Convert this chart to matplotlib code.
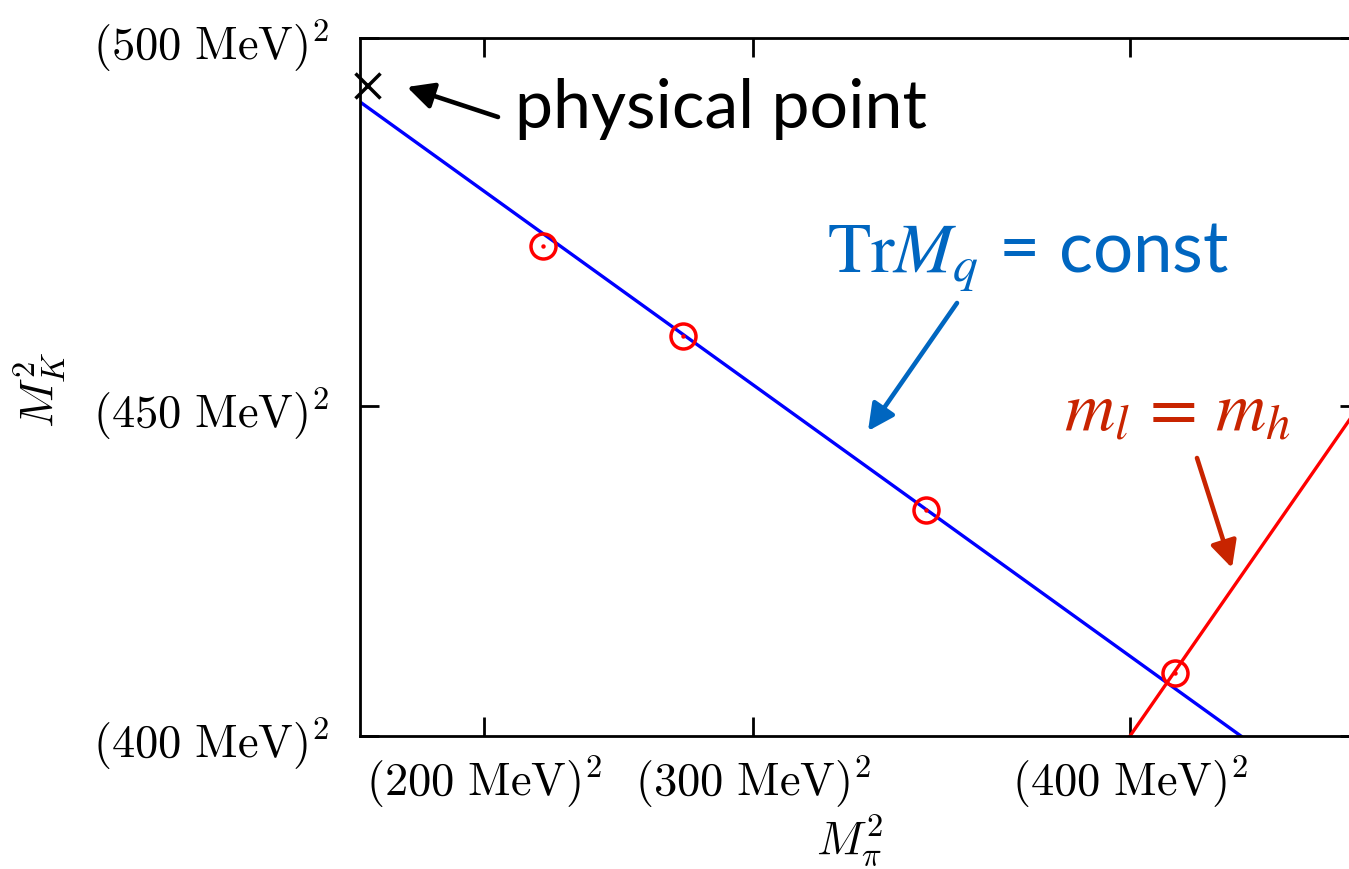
import matplotlib
matplotlib.use("Agg")
import matplotlib.pyplot as plt

plt.rcParams["mathtext.fontset"] = "cm"

# squared masses in GeV^2
xlim = [0.0169, 0.2025]
ylim = [0.16, 0.25]
xticks = [0.04, 0.09, 0.16]
xtick_labels = [r"$(200\ \mathrm{MeV})^2$", r"$(300\ \mathrm{MeV})^2$", r"$(400\ \mathrm{MeV})^2$"]
yticks = [0.16, 0.2025, 0.25]
ytick_labels = [r"$(400\ \mathrm{MeV})^2$", r"$(450\ \mathrm{MeV})^2$", r"$(500\ \mathrm{MeV})^2$"]

phys_x = [0.0182]
phys_y = [0.2440]

trmq_x = [0.0169, 0.1806]
trmq_y = [0.2418, 0.1600]

mlmh_x = [0.1600, 0.2025]
mlmh_y = [0.1600, 0.2025]

ens_x = [0.0510, 0.0770, 0.1221, 0.1684]
ens_y = [0.2232, 0.2116, 0.1892, 0.1681]

W, H = 1349, 870
BLUE_TXT = "#0066c0"
RED_TXT = "#c82400"

fig = plt.figure(figsize=(W / 100, H / 100), dpi=100)
ax = fig.add_axes([359.6 / W, 133 / H, 999.2 / W, 698 / H])

ax.plot(trmq_x, trmq_y, color="#0000ff", lw=2.4, zorder=2)
ax.plot(mlmh_x, mlmh_y, color="#ff0000", lw=2.4, zorder=2)
ax.plot(ens_x, ens_y, "o", ms=18, mfc="none", mec="#ff0000", mew=2.5, zorder=3)
ax.plot(ens_x, ens_y, "o", ms=3.2, mfc="#ff0000", mec="none", zorder=3)
ax.plot(phys_x, phys_y, "x", ms=18, color="black", mew=2.5, clip_on=False, zorder=4)

ax.set_xlim(xlim)
ax.set_ylim(ylim)
ax.set_xticks(xticks)
ax.set_xticklabels(xtick_labels)
ax.set_yticks(yticks)
ax.set_yticklabels(ytick_labels)
ax.tick_params(direction="in", length=13.5, width=2, labelsize=33.5,
               top=True, right=True)
ax.tick_params(axis="x", pad=12)
ax.tick_params(axis="y", pad=22)
for sp in ax.spines.values():
    sp.set_linewidth(2)

ax.text(-0.3209, 0.497, r"$M_K^2$", transform=ax.transAxes, rotation=90,
        ha="center", va="center", fontsize=33.5)
ax.text(0.4908, -0.149, r"$M_\pi^2$", transform=ax.transAxes,
        ha="center", va="center", fontsize=33.5)


def fpx(x, y):
    return (x / W, 1 - y / H)


fig.text(*fpx(515, 128), "physical point", fontsize=49, family="Lato",
         va="baseline", ha="left")
fig.text(*fpx(827, 273), r"$\mathrm{Tr}M_q$ = const", fontsize=51, family="Lato",
         math_fontfamily="stix", color=BLUE_TXT, va="baseline", ha="left")
fig.text(*fpx(1064, 430), r"$m_l\,=\,m_h$", fontsize=50, math_fontfamily="stix",
         color=RED_TXT, va="baseline", ha="left")

arrows = [((498, 118), (407, 88), "black"),
          ((957, 304), (868, 432), BLUE_TXT),
          ((1197, 459), (1232, 569), RED_TXT)]
for tail, tip, col in arrows:
    ax.annotate("", xy=(tip[0], H - tip[1]), xytext=(tail[0], H - tail[1]),
                xycoords="figure pixels", textcoords="figure pixels",
                arrowprops=dict(arrowstyle="-|>,head_length=0.4,head_width=0.2",
                                lw=3.3, color=col, mutation_scale=40,
                                shrinkA=0, shrinkB=0))

fig.savefig("out.png", dpi=100)
